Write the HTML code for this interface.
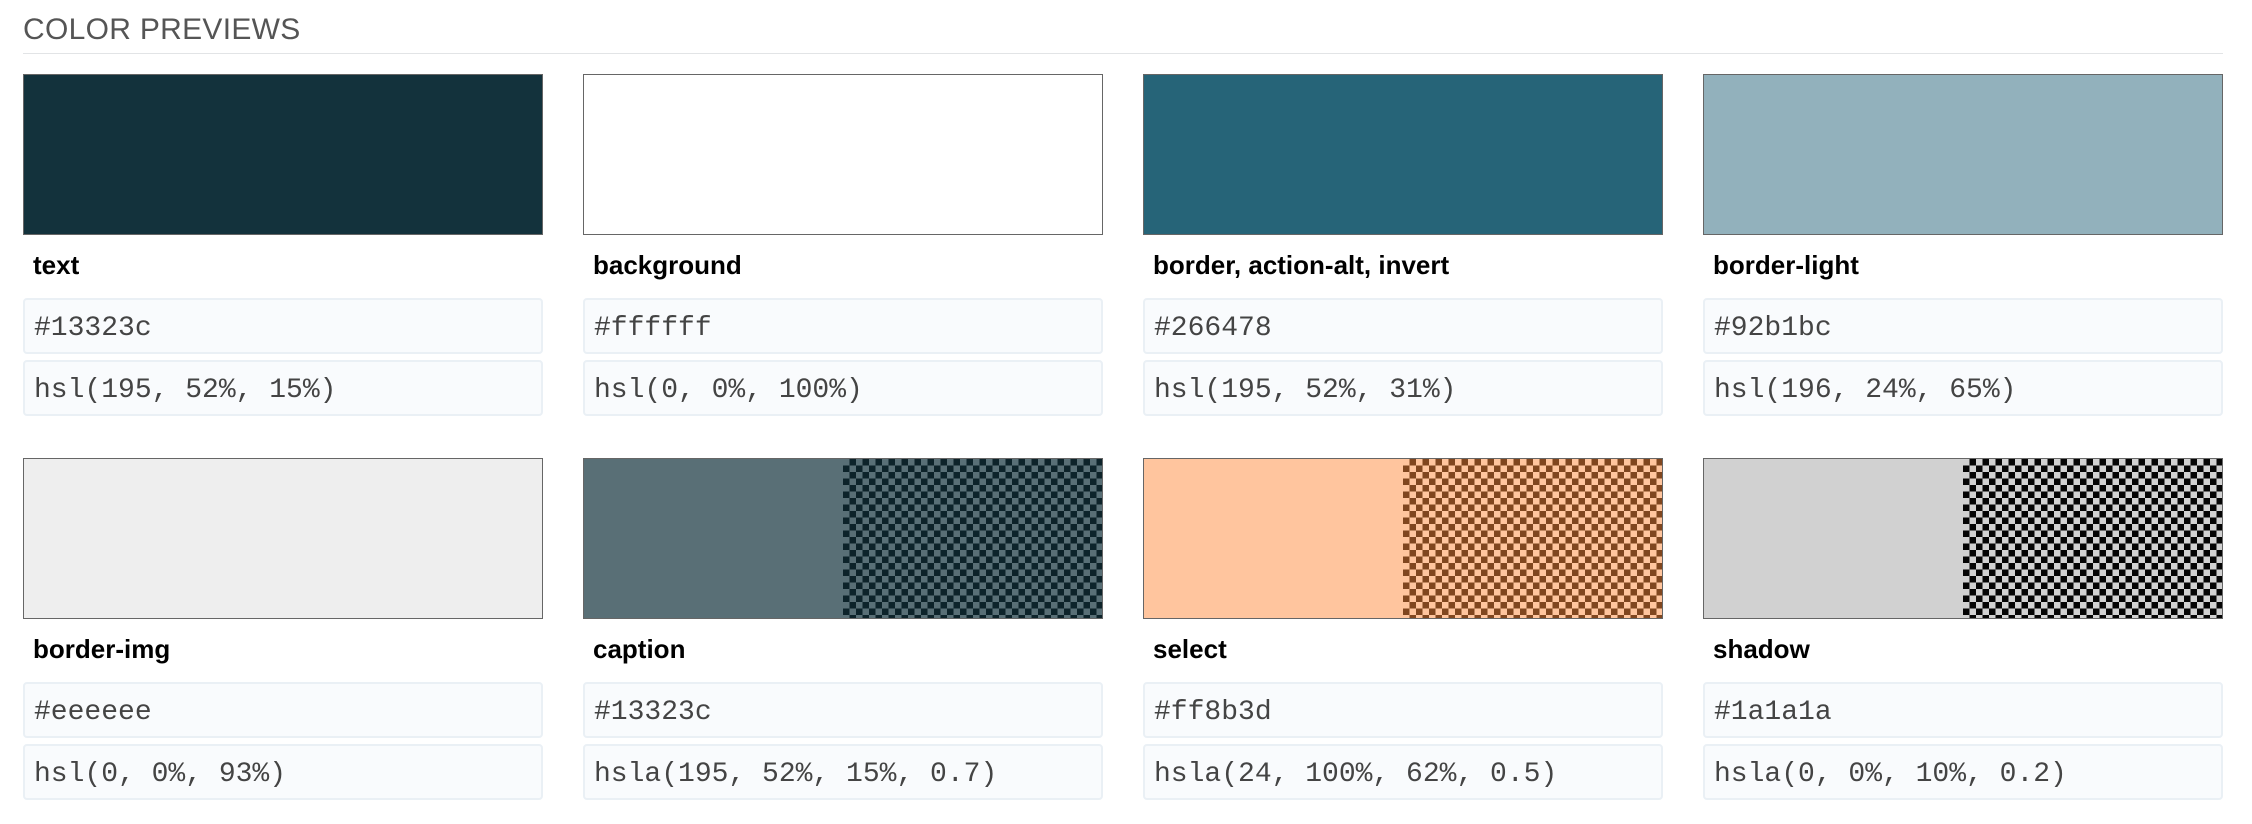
<!DOCTYPE html>
<html><head><meta charset="utf-8"><style>
body{margin:0;width:2252px;height:824px;background:#fff;position:relative;overflow:hidden;font-family:"Liberation Sans",sans-serif}
h2{position:absolute;left:23px;top:13px;margin:0;font-weight:normal;font-size:30px;color:#555;letter-spacing:0.3px}
.rule{position:absolute;left:23px;top:53px;width:2200px;height:1px;background:#e2e4e6}
.card{position:absolute;width:520px}
.sw{position:absolute;left:0;top:0;width:520px;height:161px;box-sizing:border-box;border:1px solid #666;overflow:hidden}
.half{position:absolute;top:0;bottom:0;width:50%}
.chk{background-color:#fff;background-image:linear-gradient(45deg,#000 25%,transparent 25%,transparent 75%,#000 75%),linear-gradient(45deg,#000 25%,transparent 25%,transparent 75%,#000 75%);background-size:13px 13px;background-position:0 0,6.5px 6.5px}
.ov{position:absolute;inset:0}
.lbl{position:absolute;left:10px;top:176px;font-weight:bold;font-size:26px;color:#000}
.box{position:absolute;left:0;width:520px;height:56px;box-sizing:border-box;border:2px solid #eaf0f5;border-radius:4px;background:#f9fbfd;font-family:"Liberation Mono",monospace;font-size:28px;color:#444;padding-left:9px;line-height:57px}
</style></head><body>
<h2>COLOR PREVIEWS</h2>
<div class="rule"></div>
<div id="grid"></div>
<script>
const names=["text","background","border, action-alt, invert","border-light","border-img","caption","select","shadow"];
const hexes=["#13323c","#ffffff","#266478","#92b1bc","#eeeeee","#13323c","#ff8b3d","#1a1a1a"];
const hsls=["hsl(195, 52%, 15%)","hsl(0, 0%, 100%)","hsl(195, 52%, 31%)","hsl(196, 24%, 65%)","hsl(0, 0%, 93%)","hsla(195, 52%, 15%, 0.7)","hsla(24, 100%, 62%, 0.5)","hsla(0, 0%, 10%, 0.2)"];
const alphas=[1,1,1,1,1,0.7,0.5,0.2];
const grid=document.getElementById('grid');
names.forEach((n,i)=>{
  const col=i%4,row=Math.floor(i/4);
  const c=document.createElement('div');c.className='card';
  
  
  c.style.left=(23+col*560)+'px';c.style.top=(74+row*384)+'px';
  const h=hexes[i],a=alphas[i];
  const r=parseInt(h.slice(1,3),16),g=parseInt(h.slice(3,5),16),b=parseInt(h.slice(5,7),16);
  const rgba=`rgba(${r},${g},${b},${a})`;
  let sw=`<div class="sw">`;
  if(a<1){
    sw+=`<div class="half" style="left:0;background:#fff"><div class="ov" style="background:${rgba}"></div></div>`;
    sw+=`<div class="half chk" style="left:50%"><div class="ov" style="background:${rgba}"></div></div>`;
  } else sw+=`<div class="ov" style="background:${h}"></div>`;
  sw+=`</div>`;
  c.innerHTML=sw+`<div class="lbl">${n}</div>
  <div class="box" style="top:224px">${h}</div>
  <div class="box" style="top:286px">${hsls[i]}</div>`;
  grid.appendChild(c);
});
</script>
</body></html>
